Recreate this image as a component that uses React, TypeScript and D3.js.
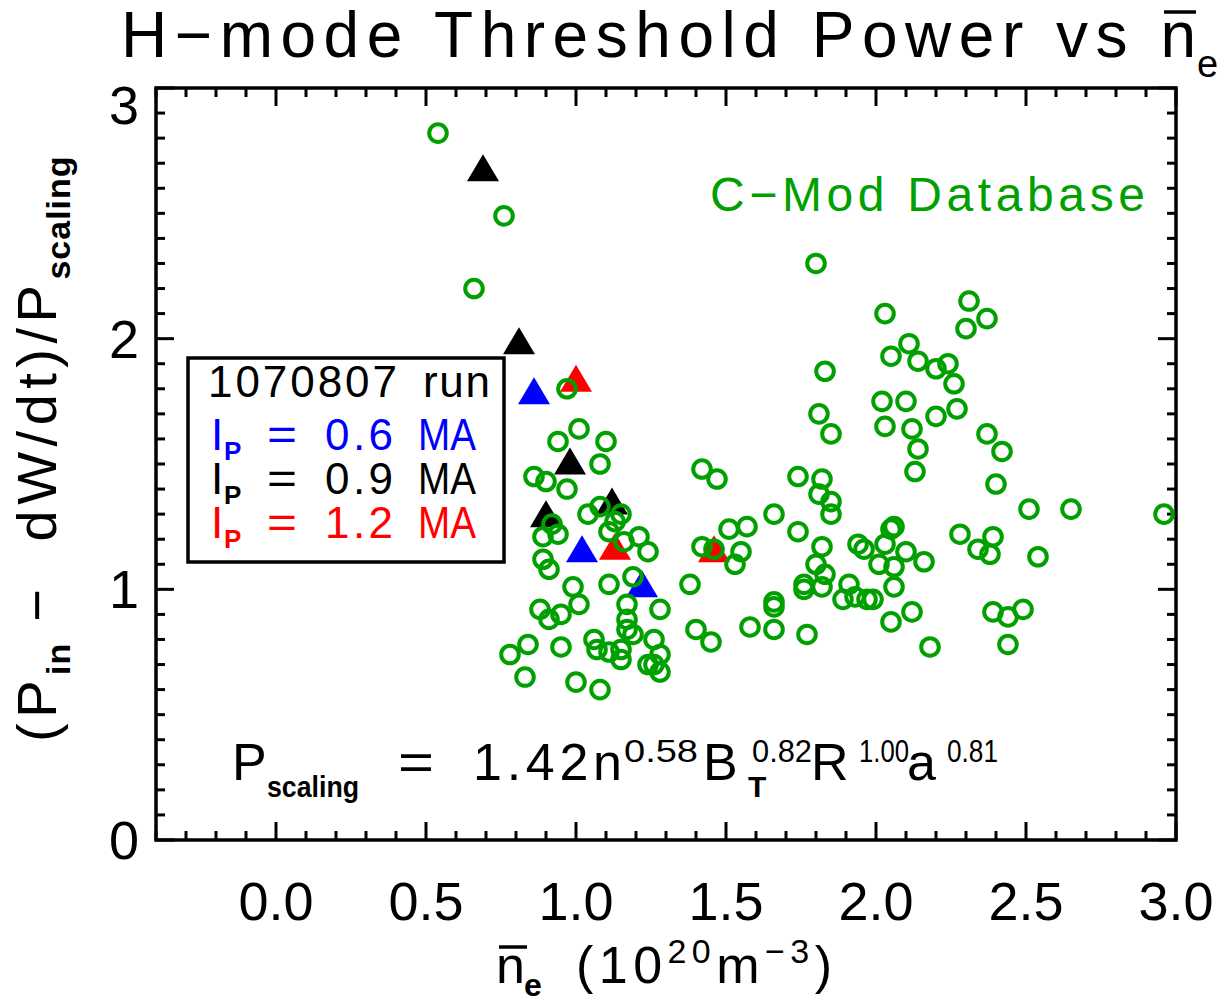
import React from 'react';
import * as d3 from 'd3';

// C-Mod database points (green open circles)
const dbNe = [
  0.54, 0.76, 0.66, 0.97, 1.01, 0.94, 1.10, 1.08, 0.86, 0.90, 0.97, 1.08, 1.04, 1.15, 1.13, 0.92,
  0.94, 0.89, 1.11, 1.21, 1.16, 1.24, 0.89, 0.91, 1.19, 1.11, 0.99, 1.01, 1.17, 1.28, 0.88, 0.95,
  0.91, 1.17, 1.17, 1.19, 0.84, 0.95, 0.78, 1.06, 1.07, 1.11, 1.15, 1.15, 1.26, 1.28, 1.24, 1.26,
  1.28, 0.83, 1.00, 1.08, 1.42, 1.47, 1.51, 1.57, 1.42, 1.46, 1.55, 1.53, 1.38, 1.40, 1.45, 1.58,
  1.74, 1.82, 1.81, 1.85, 1.85, 1.66, 1.74, 1.82, 1.80, 1.83, 1.82, 1.76, 1.76, 1.94, 1.96, 2.03,
  2.05, 2.06, 2.01, 2.06, 2.06, 1.91, 1.89, 1.93, 1.97, 1.99, 1.66, 1.66, 1.66, 1.77, 2.05, 1.80,
  2.03, 2.31, 2.37, 2.30, 2.11, 2.05, 2.14, 2.20, 2.24, 2.26, 1.83, 2.02, 2.10, 2.27, 2.20, 1.81,
  1.85, 2.03, 2.12, 2.14, 2.13, 2.37, 2.42, 2.40, 2.51, 2.65, 2.96, 2.28, 2.39, 2.34, 2.38, 2.54,
  2.39, 2.44, 2.49, 2.44, 2.18, 2.12, 2.16, 2.10,
];
const dbRatio = [
  2.82, 2.49, 2.20, 1.80, 1.64, 1.59, 1.59, 1.50, 1.45, 1.43, 1.40, 1.33, 1.30, 1.30, 1.27, 1.26,
  1.22, 1.21, 1.23, 1.21, 1.19, 1.15, 1.12, 1.08, 1.05, 1.02, 1.01, 0.94, 0.94, 0.92, 0.92, 0.90,
  0.88, 0.88, 0.84, 0.82, 0.78, 0.77, 0.74, 0.80, 0.76, 0.75, 0.76, 0.72, 0.80, 0.74, 0.70, 0.70,
  0.67, 0.65, 0.63, 0.60, 1.48, 1.44, 1.24, 1.25, 1.17, 1.16, 1.15, 1.10, 1.02, 0.84, 0.79, 0.85,
  1.45, 1.44, 1.38, 1.35, 1.30, 1.30, 1.23, 1.17, 1.10, 1.06, 1.01, 1.02, 1.00, 1.18, 1.16, 1.18,
  1.24, 1.25, 1.10, 1.09, 1.01, 1.02, 0.96, 0.97, 0.96, 0.96, 0.95, 0.93, 0.84, 0.82, 0.87, 2.30,
  2.10, 2.15, 2.08, 2.04, 1.98, 1.93, 1.91, 1.88, 1.90, 1.82, 1.87, 1.75, 1.75, 1.72, 1.69, 1.70,
  1.62, 1.65, 1.64, 1.56, 1.47, 1.62, 1.55, 1.42, 1.32, 1.32, 1.30, 1.22, 1.21, 1.16, 1.14, 1.13,
  0.91, 0.89, 0.92, 0.78, 0.77, 0.91, 1.11, 1.15,
];

// 1070807 run (filled triangles)
const ip06Ne = [0.86, 1.02, 1.22];
const ip06Ratio = [1.79, 1.16, 1.02];
const ip09Ne = [0.69, 0.81, 0.98, 1.12, 0.90];
const ip09Ratio = [2.68, 1.99, 1.51, 1.35, 1.30];
const ip12Ne = [1.00, 1.13, 1.46];
const ip12Ratio = [1.84, 1.17, 1.16];

const xTicks = [0, 0.5, 1.0, 1.5, 2.0, 2.5, 3.0];
const xTickLabels = ['0.0', '0.5', '1.0', '1.5', '2.0', '2.5', '3.0'];
const yTicks = [0, 1, 2, 3];
const yTickLabels = ['0', '1', '2', '3'];

const FONT = '"Liberation Sans", Arial, Helvetica, sans-serif';
const GREEN = '#00a000';
const NB = '\u00a0';

export default function App() {
  const x = d3.scaleLinear().domain([-0.4, 3.0]).range([156, 1176]);
  const y = d3.scaleLinear().domain([0, 3]).range([840, 88]);
  const [x0, x1] = x.range();
  const [y0, y1] = y.range();

  const xMinor = d3.range(-4, 31).map((i) => i / 10);
  const yMinor = d3.range(0, 31).map((i) => i / 10);
  const isMajorX = (v: number) => Math.abs(v * 2 - Math.round(v * 2)) < 1e-6 && v >= 0;
  const isMajorY = (v: number) => Math.abs(v - Math.round(v)) < 1e-6;

  const tri = (cx: number, cy: number) => {
    const p = d3.path();
    p.moveTo(cx, cy - 14);
    p.lineTo(cx + 16, cy + 13);
    p.lineTo(cx - 16, cy + 13);
    p.closePath();
    return p.toString();
  };

  const runs = [
    { ne: ip06Ne, r: ip06Ratio, color: '#0000ff' },
    { ne: ip09Ne, r: ip09Ratio, color: '#000000' },
    { ne: ip12Ne, r: ip12Ratio, color: '#ff0000' },
  ];

  const legendRows = [
    { val: '0.6', color: '#0000ff', base: 450 },
    { val: '0.9', color: '#000000', base: 494 },
    { val: '1.2', color: '#ff0000', base: 538 },
  ];

  return (
    <svg
      width={1226}
      height={1005}
      style={{ position: 'absolute', left: 0, top: 0, display: 'block', background: '#fff' }}
      fontFamily={FONT}
    >
      {/* title */}
      <text x={121} y={57} fontSize={64} textLength={1075} lengthAdjust="spacing">H−mode Threshold Power vs n</text>
      <line x1={1164} x2={1196} y1={12} y2={12} stroke="#000" strokeWidth={3.5} />
      <text x={1197} y={77} fontSize={38}>e</text>

      {/* ticks */}
      <g stroke="#000" strokeWidth={3}>
        {xMinor.map((v) => {
          const len = isMajorX(v) ? 18 : 9;
          return (
            <g key={`xt${v}`}>
              <line x1={x(v)} x2={x(v)} y1={y0} y2={y0 - len} />
              <line x1={x(v)} x2={x(v)} y1={y1} y2={y1 + len} />
            </g>
          );
        })}
        {yMinor.map((v) => {
          const len = isMajorY(v) ? 18 : 9;
          return (
            <g key={`yt${v}`}>
              <line x1={x0} x2={x0 + len} y1={y(v)} y2={y(v)} />
              <line x1={x1} x2={x1 - len} y1={y(v)} y2={y(v)} />
            </g>
          );
        })}
      </g>
      <rect x={x0} y={y1} width={x1 - x0} height={y0 - y1} fill="none" stroke="#000" strokeWidth={3.5} />

      {/* tick labels */}
      {xTicks.map((v, i) => (
        <text key={`xl${v}`} x={x(v)} y={920} fontSize={54} textAnchor="middle">{xTickLabels[i]}</text>
      ))}
      {yTicks.map((v, i) => (
        <text key={`yl${v}`} x={124} y={v === 3 ? 124 : y(v) + 19} fontSize={54} textAnchor="middle">{yTickLabels[i]}</text>
      ))}

      {/* x axis title */}
      <text x={496} y={983} fontSize={52}>n</text>
      <line x1={499} x2={527} y1={947} y2={947} stroke="#000" strokeWidth={3.5} />
      <text x={524} y={996} fontSize={32} fontWeight="bold">e</text>
      <text x={576} y={983} fontSize={52} textLength={256} lengthAdjust="spacing">
        (10
        <tspan dy={-20} fontSize={34}>20</tspan>
        <tspan dy={20} fontSize={52}>m</tspan>
        <tspan dy={-20} fontSize={34}>−3</tspan>
        <tspan dy={20} fontSize={52}>)</tspan>
      </text>

      {/* y axis title */}
      <g transform="translate(56, 742) rotate(-90)">
        <text x={0} y={0} fontSize={56} letterSpacing={5.5}>
          (P
          <tspan dy={14} fontSize={34} fontWeight="bold" letterSpacing={1}>in</tspan>
          <tspan dy={-14} fontSize={56}>{`${NB}−${NB}${NB}dW/dt)/P`}</tspan>
          <tspan dy={14} fontSize={34} fontWeight="bold" letterSpacing={1}>scaling</tspan>
        </text>
      </g>

      {/* run triangles (under the circles) */}
      {runs.map((run) => run.ne.map((ne, i) => (
        <path key={`${run.color}${i}`} d={tri(x(ne), y(run.r[i]))} fill={run.color} />
      )))}

      {/* database circles */}
      <g fill="none" stroke={GREEN} strokeWidth={4}>
        {dbNe.map((ne, i) => (
          <circle key={`c${i}`} cx={x(ne)} cy={y(dbRatio[i])} r={8.8} />
        ))}
      </g>

      <text x={710} y={211} fontSize={48} fill={GREEN} textLength={435} lengthAdjust="spacing">C−Mod Database</text>

      {/* legend */}
      <rect x={188} y={358} width={316} height={204} fill="#fff" stroke="#000" strokeWidth={3.5} />
      <text x={208} y={397} fontSize={44} textLength={189} lengthAdjust="spacing">1070807</text>
      <text x={423} y={397} fontSize={44} textLength={67} lengthAdjust="spacing">run</text>
      {legendRows.map((row) => (
        <g key={row.val} fill={row.color}>
          <text x={211} y={row.base} fontSize={44}>I</text>
          <text x={224} y={row.base + 10} fontSize={26} fontWeight="bold">P</text>
          <text x={267} y={row.base} fontSize={44} textLength={30} lengthAdjust="spacingAndGlyphs">=</text>
          <text x={325} y={row.base} fontSize={44} textLength={68} lengthAdjust="spacing">{row.val}</text>
          <text x={418} y={row.base} fontSize={44} textLength={58} lengthAdjust="spacingAndGlyphs">MA</text>
        </g>
      ))}

      {/* scaling formula */}
      <g fontSize={52}>
        <text x={232} y={780}>P</text>
        <text x={267} y={797} fontSize={30} fontWeight="bold" textLength={92} lengthAdjust="spacingAndGlyphs">scaling</text>
        <text x={398} y={780} textLength={36} lengthAdjust="spacingAndGlyphs">=</text>
        <text x={473} y={780} textLength={149} lengthAdjust="spacing">1.42n</text>
        <text x={624} y={762} fontSize={32} textLength={74} lengthAdjust="spacingAndGlyphs">0.58</text>
        <text x={703} y={780}>B</text>
        <text x={748} y={797} fontSize={30} fontWeight="bold">T</text>
        <text x={752} y={762} fontSize={32} textLength={60} lengthAdjust="spacingAndGlyphs">0.82</text>
        <text x={811} y={780}>R</text>
        <text x={859} y={762} fontSize={32} textLength={50} lengthAdjust="spacingAndGlyphs">1.00</text>
        <text x={907} y={780}>a</text>
        <text x={947} y={762} fontSize={32} textLength={51} lengthAdjust="spacingAndGlyphs">0.81</text>
      </g>
    </svg>
  );
}
